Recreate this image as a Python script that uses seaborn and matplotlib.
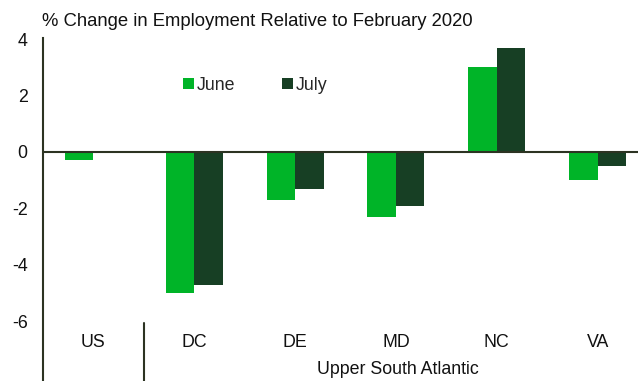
import numpy as np
import pandas as pd
import matplotlib
matplotlib.use("Agg")
import matplotlib.pyplot as plt
import seaborn as sns

# ---- data ----
categories = ["US", "DC", "DE", "MD", "NC", "VA"]
june = [-0.3, -5.0, -1.7, -2.3, 3.0, -1.0]
july = [np.nan, -4.7, -1.3, -1.9, 3.7, -0.5]
series = ["June", "July"]
yticks = [4, 2, 0, -2, -4, -6]
title = "% Change in Employment Relative to February 2020"
group_label = "Upper South Atlantic"

colors = {"June": "#00B428", "July": "#173F24"}
axis_color = "#2C3322"
text_color = "#111111"
fs = 12.8

df = pd.DataFrame({
    "cat": categories * 2,
    "series": ["June"] * len(categories) + ["July"] * len(categories),
    "value": june + july,
}).dropna()

sns.set_theme(style="white")
plt.rcParams["font.family"] = ["Liberation Sans", "DejaVu Sans"]

W, H = 638, 381
fig = plt.figure(figsize=(W / 100, H / 100), dpi=100)
ax = fig.add_axes([43 / W, 0, 1 - 43 / W, 1 - 38 / H])

sns.barplot(data=df, x="cat", y="value", hue="series", order=categories,
            hue_order=series, palette=colors, width=0.565, gap=0,
            saturation=1, linewidth=0, ax=ax, legend=True)

ymin, ymax = -8.12, 4.04
ax.set_ylim(ymin, ymax)
ax.set_xlim(-0.5, 5.4)

ax.set_yticks(yticks)
ax.set_yticklabels([str(t) for t in yticks], fontsize=fs, color=text_color)
ax.tick_params(axis="y", length=0, pad=11)
ax.set_xticks([])
ax.set_xlabel("")
ax.set_ylabel("")

for s in ["top", "right", "bottom"]:
    ax.spines[s].set_visible(False)
ax.spines["left"].set_color(axis_color)
ax.spines["left"].set_linewidth(1.5)

ax.axhline(0, color=axis_color, lw=1.5, zorder=3)

# category labels
for i, c in enumerate(categories):
    ax.text(i, -6.74, c, ha="center", va="center", fontsize=fs, color=text_color)

# separator between US and the group
ax.plot([0.5, 0.5], [-6.05, ymin], color=axis_color, lw=1.5, clip_on=False)

ax.text(2.22, -7.72, group_label, ha="left", va="center", fontsize=fs,
        color=text_color)

# legend
handles, labels = ax.get_legend_handles_labels()
ax.legend(handles, labels, loc="center left",
          bbox_to_anchor=(183 / W, 1 - 85 / H), bbox_transform=fig.transFigure,
          ncol=2, frameon=False, fontsize=fs, handlelength=0.6,
          handleheight=0.6, handletextpad=0.2, columnspacing=2.6,
          borderpad=0, borderaxespad=0)

fig.text(42 / W, 1 - 26 / H, title, ha="left", va="baseline", fontsize=13.3,
         color=text_color)

fig.savefig("out.png", dpi=100)
